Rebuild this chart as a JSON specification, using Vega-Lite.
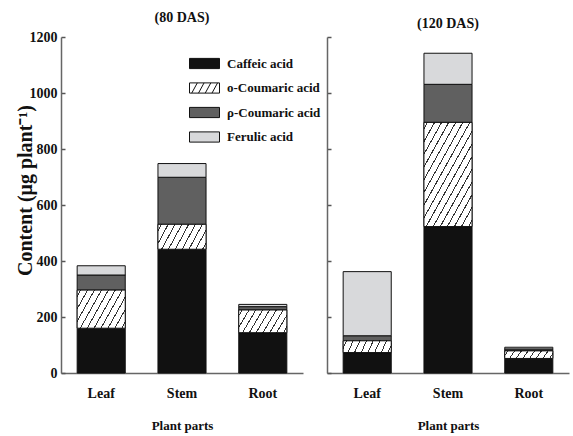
{
  "$schema": "https://vega.github.io/schema/vega-lite/v6.json",
  "background": "white",
  "padding": {"left": 15, "top": 11, "right": 2, "bottom": 2},
  "data": {"values": [
    {"stage": "80 DAS", "part": "Leaf", "acid": "Caffeic acid", "k": 1, "value": 160},
    {"stage": "80 DAS", "part": "Leaf", "acid": "o-Coumaric acid", "k": 2, "value": 136},
    {"stage": "80 DAS", "part": "Leaf", "acid": "ρ-Coumaric acid", "k": 3, "value": 54},
    {"stage": "80 DAS", "part": "Leaf", "acid": "Ferulic acid", "k": 4, "value": 33},
    {"stage": "80 DAS", "part": "Stem", "acid": "Caffeic acid", "k": 1, "value": 442},
    {"stage": "80 DAS", "part": "Stem", "acid": "o-Coumaric acid", "k": 2, "value": 89},
    {"stage": "80 DAS", "part": "Stem", "acid": "ρ-Coumaric acid", "k": 3, "value": 168},
    {"stage": "80 DAS", "part": "Stem", "acid": "Ferulic acid", "k": 4, "value": 49},
    {"stage": "80 DAS", "part": "Root", "acid": "Caffeic acid", "k": 1, "value": 144},
    {"stage": "80 DAS", "part": "Root", "acid": "o-Coumaric acid", "k": 2, "value": 81},
    {"stage": "80 DAS", "part": "Root", "acid": "ρ-Coumaric acid", "k": 3, "value": 12},
    {"stage": "80 DAS", "part": "Root", "acid": "Ferulic acid", "k": 4, "value": 8},
    {"stage": "120 DAS", "part": "Leaf", "acid": "Caffeic acid", "k": 1, "value": 73},
    {"stage": "120 DAS", "part": "Leaf", "acid": "o-Coumaric acid", "k": 2, "value": 42},
    {"stage": "120 DAS", "part": "Leaf", "acid": "ρ-Coumaric acid", "k": 3, "value": 18},
    {"stage": "120 DAS", "part": "Leaf", "acid": "Ferulic acid", "k": 4, "value": 229},
    {"stage": "120 DAS", "part": "Stem", "acid": "Caffeic acid", "k": 1, "value": 523},
    {"stage": "120 DAS", "part": "Stem", "acid": "o-Coumaric acid", "k": 2, "value": 372},
    {"stage": "120 DAS", "part": "Stem", "acid": "ρ-Coumaric acid", "k": 3, "value": 136},
    {"stage": "120 DAS", "part": "Stem", "acid": "Ferulic acid", "k": 4, "value": 111},
    {"stage": "120 DAS", "part": "Root", "acid": "Caffeic acid", "k": 1, "value": 52},
    {"stage": "120 DAS", "part": "Root", "acid": "o-Coumaric acid", "k": 2, "value": 27},
    {"stage": "120 DAS", "part": "Root", "acid": "ρ-Coumaric acid", "k": 3, "value": 7},
    {"stage": "120 DAS", "part": "Root", "acid": "Ferulic acid", "k": 4, "value": 6}
  ]},
  "transform": [
    {"stack": "value", "groupby": ["stage", "part"], "sort": [{"field": "k", "order": "ascending"}], "as": ["v0", "v1"]}
  ],
  "spacing": 24,
  "bounds": "flush",
  "resolve": {"legend": {"color": "independent"}},
  "hconcat": [
    {
      "width": 242,
      "height": 336,
      "title": {"text": "(80 DAS)"},
      "transform": [{"filter": "datum.stage === '80 DAS'"}],
      "layer": [
        {
          "mark": {"type": "bar", "stroke": "#111", "strokeWidth": 1},
          "encoding": {
            "x": {"field": "part", "type": "nominal", "sort": ["Leaf", "Stem", "Root"],
                  "scale": {"paddingInner": 0.405, "paddingOuter": 0.2},
                  "axis": {"title": "Plant parts", "labelAngle": 0, "ticks": false, "labelPadding": 13, "titlePadding": 19}},
            "y": {"field": "v1", "type": "quantitative", "scale": {"domain": [0, 1200], "nice": false},
                  "axis": {"title": "Content (μg plant⁻¹)", "format": "d", "values": [0, 200, 400, 600, 800, 1000, 1200], "tickSize": -4, "labelPadding": 8, "titlePadding": -6, "titleFontSize": 20, "titleAlign": "center", "titleY": 153}},
            "y2": {"field": "v0"},
            "color": {"field": "acid", "type": "nominal",
                      "scale": {"domain": ["Caffeic acid", "o-Coumaric acid", "ρ-Coumaric acid", "Ferulic acid"], "range": ["#111111", "#ffffff", "#606060", "#d8d9db"]},
                      "legend": {
                        "title": null, "orient": "none", "legendX": 128, "legendY": 11, "padding": 0,
                        "symbolType": "M-1,-0.34H1V0.34H-1Z", "symbolSize": 900, "symbolStrokeColor": "#111", "symbolStrokeWidth": 1,
                        "labelFont": "Liberation Serif", "labelFontWeight": "bold", "labelFontSize": 13, "labelColor": "#111", "labelOffset": 7, "rowPadding": 1.5,
                        "encode": {"symbols": {"update": {
                          "stroke": {"value": "#111"},
                          "strokeWidth": {"value": 1},
                          "shape": {"signal": "(datum.index === 1 || datum.value === 'o-Coumaric acid') ? 'M-1,-0.34H1V0.34H-1Z M-0.85,0.34L-0.48,-0.34 M-0.4,0.34L-0.03,-0.34 M0.05,0.34L0.42,-0.34 M0.5,0.34L0.87,-0.34' : 'M-1,-0.34H1V0.34H-1Z'"}
                        }}}
                      }}
          }
        },
        {
          "transform": [{"filter": "datum.k === 2"}],
          "mark": {"type": "bar", "stroke": "#111", "strokeWidth": 1},
          "encoding": {
            "x": {"field": "part", "type": "nominal", "sort": ["Leaf", "Stem", "Root"]},
            "y": {"field": "v1", "type": "quantitative"},
            "y2": {"field": "v0"},
            "fill": {
              "condition": {"test": "datum.value > 100", "value": {"gradient": "linear", "x1": 0, "y1": 0, "x2": 1.206, "y2": 0.531, "stops": [
                {"offset": 0, "color": "#ffffff"},
                {"offset": 0.042, "color": "#ffffff"}, {"offset": 0.042, "color": "#333333"}, {"offset": 0.058, "color": "#333333"}, {"offset": 0.058, "color": "#ffffff"},
                {"offset": 0.142, "color": "#ffffff"}, {"offset": 0.142, "color": "#333333"}, {"offset": 0.158, "color": "#333333"}, {"offset": 0.158, "color": "#ffffff"},
                {"offset": 0.242, "color": "#ffffff"}, {"offset": 0.242, "color": "#333333"}, {"offset": 0.258, "color": "#333333"}, {"offset": 0.258, "color": "#ffffff"},
                {"offset": 0.342, "color": "#ffffff"}, {"offset": 0.342, "color": "#333333"}, {"offset": 0.358, "color": "#333333"}, {"offset": 0.358, "color": "#ffffff"},
                {"offset": 0.442, "color": "#ffffff"}, {"offset": 0.442, "color": "#333333"}, {"offset": 0.458, "color": "#333333"}, {"offset": 0.458, "color": "#ffffff"},
                {"offset": 0.542, "color": "#ffffff"}, {"offset": 0.542, "color": "#333333"}, {"offset": 0.558, "color": "#333333"}, {"offset": 0.558, "color": "#ffffff"},
                {"offset": 0.642, "color": "#ffffff"}, {"offset": 0.642, "color": "#333333"}, {"offset": 0.658, "color": "#333333"}, {"offset": 0.658, "color": "#ffffff"},
                {"offset": 0.742, "color": "#ffffff"}, {"offset": 0.742, "color": "#333333"}, {"offset": 0.758, "color": "#333333"}, {"offset": 0.758, "color": "#ffffff"},
                {"offset": 0.842, "color": "#ffffff"}, {"offset": 0.842, "color": "#333333"}, {"offset": 0.858, "color": "#333333"}, {"offset": 0.858, "color": "#ffffff"},
                {"offset": 0.942, "color": "#ffffff"}, {"offset": 0.942, "color": "#333333"}, {"offset": 0.958, "color": "#333333"}, {"offset": 0.958, "color": "#ffffff"},
                {"offset": 1, "color": "#ffffff"}]}},
              "value": {"gradient": "linear", "x1": 0, "y1": 0, "x2": 1.186, "y2": 0.330, "stops": [
                {"offset": 0, "color": "#ffffff"},
                {"offset": 0.0466, "color": "#ffffff"}, {"offset": 0.0466, "color": "#333333"}, {"offset": 0.0646, "color": "#333333"}, {"offset": 0.0646, "color": "#ffffff"},
                {"offset": 0.1577, "color": "#ffffff"}, {"offset": 0.1577, "color": "#333333"}, {"offset": 0.1757, "color": "#333333"}, {"offset": 0.1757, "color": "#ffffff"},
                {"offset": 0.2688, "color": "#ffffff"}, {"offset": 0.2688, "color": "#333333"}, {"offset": 0.2868, "color": "#333333"}, {"offset": 0.2868, "color": "#ffffff"},
                {"offset": 0.3799, "color": "#ffffff"}, {"offset": 0.3799, "color": "#333333"}, {"offset": 0.3979, "color": "#333333"}, {"offset": 0.3979, "color": "#ffffff"},
                {"offset": 0.491, "color": "#ffffff"}, {"offset": 0.491, "color": "#333333"}, {"offset": 0.509, "color": "#333333"}, {"offset": 0.509, "color": "#ffffff"},
                {"offset": 0.6021, "color": "#ffffff"}, {"offset": 0.6021, "color": "#333333"}, {"offset": 0.6201, "color": "#333333"}, {"offset": 0.6201, "color": "#ffffff"},
                {"offset": 0.7132, "color": "#ffffff"}, {"offset": 0.7132, "color": "#333333"}, {"offset": 0.7312, "color": "#333333"}, {"offset": 0.7312, "color": "#ffffff"},
                {"offset": 0.8243, "color": "#ffffff"}, {"offset": 0.8243, "color": "#333333"}, {"offset": 0.8423, "color": "#333333"}, {"offset": 0.8423, "color": "#ffffff"},
                {"offset": 0.9354, "color": "#ffffff"}, {"offset": 0.9354, "color": "#333333"}, {"offset": 0.9534, "color": "#333333"}, {"offset": 0.9534, "color": "#ffffff"},
                {"offset": 1, "color": "#ffffff"}]}
            }
          }
        }
      ]
    },
    {
      "width": 242,
      "height": 336,
      "title": {"text": "(120 DAS)"},
      "transform": [{"filter": "datum.stage === '120 DAS'"}],
      "layer": [
        {
          "mark": {"type": "bar", "stroke": "#111", "strokeWidth": 1},
          "encoding": {
            "x": {"field": "part", "type": "nominal", "sort": ["Leaf", "Stem", "Root"],
                  "scale": {"paddingInner": 0.405, "paddingOuter": 0.2},
                  "axis": {"title": "Plant parts", "labelAngle": 0, "ticks": false, "labelPadding": 13, "titlePadding": 19}},
            "y": {"field": "v1", "type": "quantitative", "scale": {"domain": [0, 1200], "nice": false},
                  "axis": {"title": null, "labels": false, "values": [0, 200, 400, 600, 800, 1000, 1200], "tickSize": -4}},
            "y2": {"field": "v0"},
            "color": {"field": "acid", "type": "nominal",
                      "scale": {"domain": ["Caffeic acid", "o-Coumaric acid", "ρ-Coumaric acid", "Ferulic acid"], "range": ["#111111", "#ffffff", "#606060", "#d8d9db"]},
                      "legend": null}
          }
        },
        {
          "transform": [{"filter": "datum.k === 2"}],
          "mark": {"type": "bar", "stroke": "#111", "strokeWidth": 1},
          "encoding": {
            "x": {"field": "part", "type": "nominal", "sort": ["Leaf", "Stem", "Root"]},
            "y": {"field": "v1", "type": "quantitative"},
            "y2": {"field": "v0"},
            "fill": {
              "condition": {"test": "datum.value > 300", "value": {"gradient": "linear", "x1": 0, "y1": 0, "x2": 0.900, "y2": 1.083, "stops": [
                {"offset": 0, "color": "#ffffff"},
                {"offset": 0.0278, "color": "#ffffff"}, {"offset": 0.0278, "color": "#333333"}, {"offset": 0.0388, "color": "#333333"}, {"offset": 0.0388, "color": "#ffffff"},
                {"offset": 0.0945, "color": "#ffffff"}, {"offset": 0.0945, "color": "#333333"}, {"offset": 0.1055, "color": "#333333"}, {"offset": 0.1055, "color": "#ffffff"},
                {"offset": 0.1612, "color": "#ffffff"}, {"offset": 0.1612, "color": "#333333"}, {"offset": 0.1722, "color": "#333333"}, {"offset": 0.1722, "color": "#ffffff"},
                {"offset": 0.2278, "color": "#ffffff"}, {"offset": 0.2278, "color": "#333333"}, {"offset": 0.2388, "color": "#333333"}, {"offset": 0.2388, "color": "#ffffff"},
                {"offset": 0.2945, "color": "#ffffff"}, {"offset": 0.2945, "color": "#333333"}, {"offset": 0.3055, "color": "#333333"}, {"offset": 0.3055, "color": "#ffffff"},
                {"offset": 0.3612, "color": "#ffffff"}, {"offset": 0.3612, "color": "#333333"}, {"offset": 0.3722, "color": "#333333"}, {"offset": 0.3722, "color": "#ffffff"},
                {"offset": 0.4278, "color": "#ffffff"}, {"offset": 0.4278, "color": "#333333"}, {"offset": 0.4388, "color": "#333333"}, {"offset": 0.4388, "color": "#ffffff"},
                {"offset": 0.4945, "color": "#ffffff"}, {"offset": 0.4945, "color": "#333333"}, {"offset": 0.5055, "color": "#333333"}, {"offset": 0.5055, "color": "#ffffff"},
                {"offset": 0.5612, "color": "#ffffff"}, {"offset": 0.5612, "color": "#333333"}, {"offset": 0.5722, "color": "#333333"}, {"offset": 0.5722, "color": "#ffffff"},
                {"offset": 0.6278, "color": "#ffffff"}, {"offset": 0.6278, "color": "#333333"}, {"offset": 0.6388, "color": "#333333"}, {"offset": 0.6388, "color": "#ffffff"},
                {"offset": 0.6945, "color": "#ffffff"}, {"offset": 0.6945, "color": "#333333"}, {"offset": 0.7055, "color": "#333333"}, {"offset": 0.7055, "color": "#ffffff"},
                {"offset": 0.7612, "color": "#ffffff"}, {"offset": 0.7612, "color": "#333333"}, {"offset": 0.7722, "color": "#333333"}, {"offset": 0.7722, "color": "#ffffff"},
                {"offset": 0.8278, "color": "#ffffff"}, {"offset": 0.8278, "color": "#333333"}, {"offset": 0.8388, "color": "#333333"}, {"offset": 0.8388, "color": "#ffffff"},
                {"offset": 0.8945, "color": "#ffffff"}, {"offset": 0.8945, "color": "#333333"}, {"offset": 0.9055, "color": "#333333"}, {"offset": 0.9055, "color": "#ffffff"},
                {"offset": 0.9612, "color": "#ffffff"}, {"offset": 0.9612, "color": "#333333"}, {"offset": 0.9722, "color": "#333333"}, {"offset": 0.9722, "color": "#ffffff"},
                {"offset": 1, "color": "#ffffff"}]}},
              "value": {"gradient": "linear", "x1": 0, "y1": 0, "x2": 1.097, "y2": 0.121, "stops": [
                {"offset": 0, "color": "#ffffff"},
                {"offset": 0.0525, "color": "#ffffff"}, {"offset": 0.0525, "color": "#333333"}, {"offset": 0.0725, "color": "#333333"}, {"offset": 0.0725, "color": "#ffffff"},
                {"offset": 0.1775, "color": "#ffffff"}, {"offset": 0.1775, "color": "#333333"}, {"offset": 0.1975, "color": "#333333"}, {"offset": 0.1975, "color": "#ffffff"},
                {"offset": 0.3025, "color": "#ffffff"}, {"offset": 0.3025, "color": "#333333"}, {"offset": 0.3225, "color": "#333333"}, {"offset": 0.3225, "color": "#ffffff"},
                {"offset": 0.4275, "color": "#ffffff"}, {"offset": 0.4275, "color": "#333333"}, {"offset": 0.4475, "color": "#333333"}, {"offset": 0.4475, "color": "#ffffff"},
                {"offset": 0.5525, "color": "#ffffff"}, {"offset": 0.5525, "color": "#333333"}, {"offset": 0.5725, "color": "#333333"}, {"offset": 0.5725, "color": "#ffffff"},
                {"offset": 0.6775, "color": "#ffffff"}, {"offset": 0.6775, "color": "#333333"}, {"offset": 0.6975, "color": "#333333"}, {"offset": 0.6975, "color": "#ffffff"},
                {"offset": 0.8025, "color": "#ffffff"}, {"offset": 0.8025, "color": "#333333"}, {"offset": 0.8225, "color": "#333333"}, {"offset": 0.8225, "color": "#ffffff"},
                {"offset": 0.9275, "color": "#ffffff"}, {"offset": 0.9275, "color": "#333333"}, {"offset": 0.9475, "color": "#333333"}, {"offset": 0.9475, "color": "#ffffff"},
                {"offset": 1, "color": "#ffffff"}]}
            }
          }
        }
      ]
    }
  ],
  "config": {
    "font": "Liberation Serif",
    "view": {"stroke": null},
    "title": {"fontSize": 14, "fontWeight": "bold", "color": "#111", "offset": 5, "font": "Liberation Serif"},
    "axis": {
      "grid": false, "domainColor": "#666", "domainWidth": 1.5, "tickColor": "#555", "tickWidth": 1.5,
      "labelFont": "Liberation Serif", "labelFontWeight": "bold", "labelFontSize": 14, "labelColor": "#111",
      "titleFont": "Liberation Serif", "titleFontWeight": "bold", "titleFontSize": 13, "titleColor": "#111"
    }
  }
}
